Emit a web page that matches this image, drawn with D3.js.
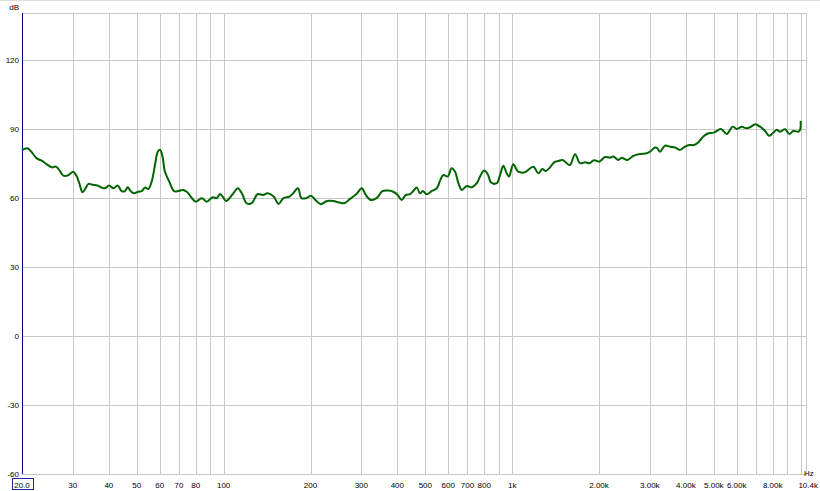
<!DOCTYPE html>
<html>
<head>
<meta charset="utf-8">
<script src="https://cdn.jsdelivr.net/npm/d3@7/dist/d3.min.js"></script>
<style>
html,body{margin:0;padding:0;background:#fff;}
svg{display:block;}
text{font-family:"Liberation Sans",Arial,sans-serif;font-size:8px;fill:#000;}
</style>
</head>
<body>
<script>
// Frequency (Hz) and level (dB) of the measured response
const freq = [20,20.9,21.6,22.5,23.4,24.4,25.4,26.2,26.9,27.8,28.7,29.3,30.1,30.8,31.6,32.4,33.1,34.0,35.2,36.5,37.8,38.8,40.1,41.5,42.9,44.3,45.5,46.5,47.6,48.9,50.6,52.0,53.4,54.8,56.3,57.8,59.1,60.2,61.3,62.6,64.8,67.3,69.6,72.1,74.5,76.9,80.0,83.9,87.4,91.6,94.6,97.1,99.2,102,108,112,116,120,125,131,137,142,149,155,161,169,
174,181,186,193,201,208,217,228,240,250,262,274,288,301,311,324,339,355,372,387,401,414,428,443,454,467,479,490,506,526,548,562,577,598,617,634,651,669,696,724,754,774,799,823,845,884,908,932,957,975,1009,1050,1108,1184,1232,1272,1307,1353,1400,
1446,1497,1546,1587,1652,1719,1789,1851,1922,2005,2098,2184,2242,2334,2398,2507,2630,2774,2926,3004,3126,3184,3253,3386,3524,3668,3818,3974,4113,4270,4420,4598,4786,4980,5118,5284,5395,5542,5815,6005,6248,6502,6730,6948,7230,7524,7769,8000,8260,8480,8826,9134,9430,9815,9950,10000];
const level = [80.8,81.6,79.9,77.2,76.2,74.6,73.3,73.6,72.2,69.7,69.7,70.4,71.4,70.0,66.4,62.5,63.9,66.1,65.7,65.4,64.5,64.2,65.4,64.2,65.4,63.0,63.0,64.6,63.0,62.0,62.7,63.0,64.5,63.9,67.1,74.3,80.1,80.9,78.4,71.4,67.1,63.0,63.0,63.5,62.7,60.6,58.4,59.9,58.4,60.3,59.9,61.7,60.6,58.7,62.0,64.2,61.6,57.7,57.7,61.6,61.3,62.0,60.6,57.4,59.9,60.6,
62.0,64.2,59.9,59.9,60.9,59.1,57.3,58.7,58.7,58.1,57.7,59.6,61.6,64.2,61.3,59.1,59.9,63.0,63.2,62.7,61.3,59.1,61.3,61.7,63.0,64.5,62.0,63.0,61.6,63.0,64.2,67.4,70.0,69.3,72.9,71.4,66.4,63.5,65.2,64.6,66.4,69.3,71.9,70.3,66.7,66.4,70.0,74.0,70.7,69.3,74.6,71.4,71.2,73.6,70.7,72.6,71.7,73.3,75.6,
76.1,76.5,75.1,74.3,79.0,75.1,75.5,75.1,76.4,75.8,77.8,77.5,78.0,76.5,77.5,76.5,78.3,79.1,79.4,80.1,81.9,81.6,80.1,82.7,82.3,81.9,80.9,82.3,83.0,83.0,84.2,86.7,88.1,88.4,89.1,90.0,89.1,87.8,91.0,90.0,90.9,90.3,91.0,92.0,91.0,89.1,87.0,88.1,89.6,88.8,89.9,87.8,89.1,88.8,89.6,93.5];

const yTicks = [-60,-30,0,30,60,90,120];
const gridFreqs = [20,30,40,50,60,70,80,90,100,200,300,400,500,600,700,800,900,1000,2000,3000,4000,5000,6000,7000,8000,9000,10000,10400];
const labelFreqs = [20,30,40,50,60,70,80,100,200,300,400,500,600,700,800,1000,2000,3000,4000,5000,6000,8000,10400];
const labelText = ["20.0","30","40","50","60","70","80","100","200","300","400","500","600","700","800","1k","2.00k","3.00k","4.00k","5.00k","6.00k","8.00k","10.4k"];

const W = 820, H = 491;
const mLeft = 22, mRight = 805.6, mTop = 13, mBottom = 474;

const x = d3.scaleLog().domain([20, 10400]).range([mLeft, mRight]);
const y = d3.scaleLinear().domain([-60, 140.4]).range([mBottom, mTop]);

const svg = d3.select("body").append("svg").attr("width", W).attr("height", H);

// faint top border
svg.append("line").attr("x1",0).attr("x2",W).attr("y1",0.5).attr("y2",0.5)
  .attr("stroke","#dcdcdc").attr("stroke-width",1);

// horizontal grid
svg.append("g").selectAll("line").data(yTicks.concat([140.4])).join("line")
  .attr("x1", mLeft).attr("x2", mRight + 1.5)
  .attr("y1", d => Math.round(y(d)) + 0.5).attr("y2", d => Math.round(y(d)) + 0.5)
  .attr("stroke", "#c8c8c8").attr("stroke-width", 1);

// vertical grid
svg.append("g").selectAll("line").data(gridFreqs).join("line")
  .attr("x1", d => Math.round(x(d)) + 0.5).attr("x2", d => Math.round(x(d)) + 0.5)
  .attr("y1", mTop).attr("y2", mBottom)
  .attr("stroke", "#c8c8c8").attr("stroke-width", 1);

// y axis line
svg.append("line").attr("x1", mLeft + 0.5).attr("x2", mLeft + 0.5).attr("y1", mTop).attr("y2", mBottom)
  .attr("stroke", "#000080").attr("stroke-width", 1);

// y labels
svg.append("g").selectAll("text").data(yTicks).join("text")
  .attr("x", 19).attr("y", d => y(d) + 3)
  .attr("text-anchor", "end")
  .text(d => d);
svg.append("text").attr("x", 19).attr("y", 9.5).attr("text-anchor", "end").text("dB");

// x labels
const xl = svg.append("g");
labelFreqs.forEach((f, i) => {
  const last = i === labelFreqs.length - 1;
  xl.append("text")
    .attr("x", last ? 818 : x(f))
    .attr("y", 487.5)
    .attr("text-anchor", last ? "end" : "middle")
    .text(labelText[i]);
  if (i === 0) {
    xl.append("rect").attr("x", 12.5).attr("y", 478.5).attr("width", 21).attr("height", 11)
      .attr("fill", "none").attr("stroke", "#2020a0").attr("stroke-width", 1);
  }
});
svg.append("text").attr("x", 804).attr("y", 476).text("Hz");

// curve
const pts = freq.map((f, i) => [f, level[i]]);
const line = d3.line().x(d => x(d[0])).y(d => y(d[1])).curve(d3.curveCatmullRom.alpha(0.5));
svg.append("path").datum(pts).attr("d", line)
  .attr("fill", "none").attr("stroke", "#006400").attr("stroke-width", 2)
  .attr("stroke-linejoin", "round");
</script>
</body>
</html>
